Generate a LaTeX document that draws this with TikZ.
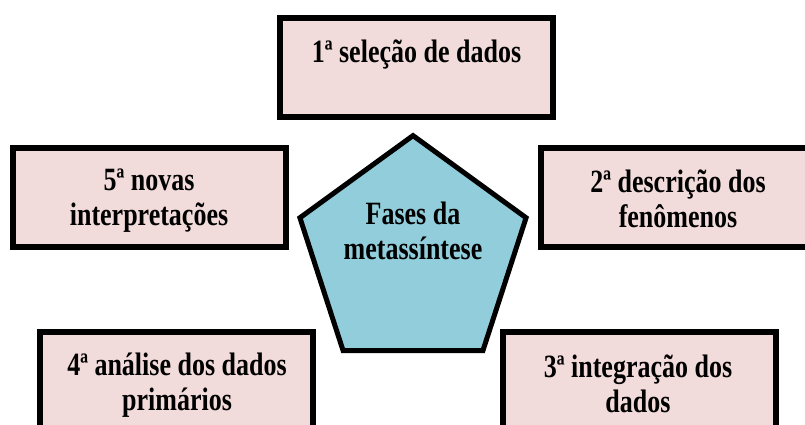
\documentclass[tikz,border=0pt]{standalone}
\usepackage{fontspec}
\setmainfont{Liberation Serif}[FakeStretch=0.8]
\usetikzlibrary{shapes.geometric}
\definecolor{boxfill}{HTML}{F2DCDB}
\definecolor{pentfill}{HTML}{92CDDC}
\tikzset{
  phasebox/.style={draw=black, line width=6pt, fill=boxfill, rectangle, minimum width=273pt, minimum height=99pt, inner sep=0pt},
  centerpent/.style={draw=black, line width=5pt, fill=pentfill, regular polygon, regular polygon sides=5, minimum size=237.8pt, inner sep=0pt},
  lbl/.style={font=\bfseries\fontsize{32.5}{35}\selectfont, align=center, inner sep=0pt, text=black}
}
\begin{document}
\begin{tikzpicture}[x=1pt,y=-1pt]
\useasboundingbox (0,0) rectangle (805,425);
\clip (0,0) rectangle (805,425);
\node[phasebox] (b1) at (416.5,67.5) {};
\node[phasebox] (b5) at (149,197.5) {};
\node[phasebox] (b2) at (677.5,197.5) {};
\node[phasebox] (b4) at (176.5,381.5) {};
\node[phasebox] (b3) at (639.5,381.5) {};
\node[centerpent] (p) at (413,254.5) {};
\node[lbl] (t1) at (416.5,55) {1ª seleção de dados};
\node[lbl] (t5) at (149,201) {5ª novas\\interpretações};
\node[lbl] (t2) at (678,199) {2ª descrição dos\\fenômenos};
\node[lbl] (t4) at (177,385) {4ª análise dos dados\\primários};
\node[lbl] (t3) at (638,384) {3ª integração dos\\dados};
\node[lbl] (tp) at (413,231) {Fases da\\metassíntese};
\end{tikzpicture}
\end{document}
